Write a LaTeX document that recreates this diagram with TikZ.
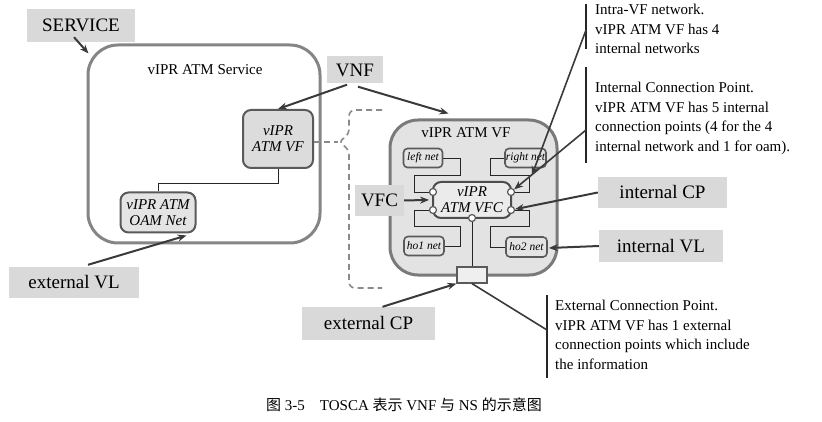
\documentclass[tikz,border=0pt]{standalone}
\usepackage{fontspec}
\setmainfont{Liberation Serif}
\newfontfamily\cjk{Noto Sans CJK SC}
\usetikzlibrary{arrows.meta,calc}
\definecolor{lblgray}{HTML}{D9D9D9}
\definecolor{arrgray}{HTML}{3A3A3A}
\definecolor{boxedge}{HTML}{858585}
\definecolor{netedge}{HTML}{5A5A5A}
\definecolor{netfill}{HTML}{E4E4E4}
\definecolor{vfsfill}{HTML}{DCDCDC}
\definecolor{bigfill}{HTML}{E3E3E3}
\definecolor{bigedge}{HTML}{7A7A7A}
\definecolor{extfill}{HTML}{EFEFEF}
\definecolor{vfcfill}{HTML}{EBEBEB}
\definecolor{vfcedge}{HTML}{4D4D4D}
\definecolor{dashgray}{HTML}{8A8A8A}
\begin{document}
\begin{tikzpicture}[x=1pt,y=-1pt,
  lbl/.style={fill=lblgray,draw=none,inner sep=0pt,font=\fontsize{19}{22}\selectfont},
  bigbox/.style={draw=boxedge,line width=3pt,rounded corners=30pt,inner sep=0pt},
  netbox/.style={draw=netedge,fill=netfill,line width=1.6pt,rounded corners=4pt,inner sep=0pt,font=\fontsize{11.5}{13}\selectfont\itshape},
  midbox/.style={draw=netedge,fill=netfill,line width=2pt,rounded corners=8pt,inner sep=0pt,align=center,font=\fontsize{15}{16}\selectfont\itshape},
  cpt/.style={circle,draw=netedge,fill=white,line width=1.2pt,minimum size=7pt,inner sep=0pt},
  arr/.style={draw=arrgray,line width=2pt,-{Stealth[length=9pt,width=7pt]}},
  thin/.style={draw=black!85,line width=0.9pt},
  note/.style={anchor=north west,inner sep=0pt,align=left,font=\fontsize{15}{19.5}\selectfont},
  notebar/.style={draw=black!85,line width=2pt},
  dashline/.style={draw=dashgray,line width=1.6pt,dash pattern=on 6pt off 4pt,rounded corners=6pt}
]
\useasboundingbox (0,0) rectangle (822,422);

% ---------- Service box ----------
\node[bigbox,fill=white,minimum width=232pt,minimum height=198pt] (service) at (204,144) {};
\node[inner sep=0pt,font=\fontsize{15}{17}\selectfont] (servtitle) at (205,70) {vIPR ATM Service};
\node[midbox,fill=vfsfill,minimum width=70pt,minimum height=58pt] (vfs) at (278,139) {vIPR\\ATM VF};
\node[midbox,minimum width=75pt,minimum height=40pt] (oam) at (158,212.5) {vIPR ATM\\OAM Net};
\draw[thin] (vfs.south) -- ++(0,14) -| (oam.north);

% ---------- Dashed bracket ----------
\draw[dashline] (382,110) -- (349,110) -- (349,135) -- (338,142) -- (349,149) -- (349,288) -- (382,288);
\draw[dashline,rounded corners=0pt] (vfs.east |- 0,142) -- (338,142);

% ---------- VF box ----------
\node[bigbox,fill=bigfill,draw=bigedge,minimum width=167pt,minimum height=155pt,rounded corners=28pt] (bigvf) at (473.5,197.5) {};
\node[inner sep=0pt,font=\fontsize{15}{17}\selectfont] (vftitle) at (466,133) {vIPR ATM VF};
\node[netbox,minimum width=39pt,minimum height=19pt] (leftnet) at (423,158) {left net};
\node[netbox,minimum width=41pt,minimum height=19pt] (rightnet) at (525.5,158) {right net};
\node[netbox,minimum width=40pt,minimum height=19pt] (ho1) at (424,246) {ho1 net};
\node[netbox,minimum width=41pt,minimum height=20pt] (ho2) at (526.5,247) {ho2 net};

\coordinate (cp1p) at (433,192);
\coordinate (cp2p) at (433,210);
\coordinate (cp3p) at (511,192);
\coordinate (cp4p) at (511,210);
\coordinate (cp5p) at (472,218);

\node[draw=netedge,fill=extfill,line width=1.2pt,minimum width=30pt,minimum height=16pt,inner sep=0pt] (extcp) at (472,275) {};

\draw[thin] (leftnet.east) -- (460,158) -- (460,175) -- (414,175) -- (414,192) -- (cp1p);
\draw[thin] (cp2p) -- (414,210) -- (414,226) -- (460,226) -- (460,246) -- (ho1.east);
\draw[thin] (rightnet.west) -- (490,158) -- (490,175) -- (529,175) -- (529,192) -- (cp3p);
\draw[thin] (cp4p) -- (529,210) -- (529,226) -- (490,226) -- (490,247) -- (ho2.west);
\draw[thin] (cp5p) -- (extcp.north);

\node[midbox,fill=vfcfill,draw=vfcedge,minimum width=78pt,minimum height=36pt] (vfcbox) at (472,200) {vIPR\\ATM VFC};
\node[cpt] (cp1) at (cp1p) {};
\node[cpt] (cp2) at (cp2p) {};
\node[cpt] (cp3) at (cp3p) {};
\node[cpt] (cp4) at (cp4p) {};
\node[cpt] (cp5) at (cp5p) {};

% ---------- Labels ----------
\node[lbl,minimum width=108pt,minimum height=33pt] (servlbl) at (81,25.5) {SERVICE};
\node[lbl,minimum width=56pt,minimum height=27pt] (vnf) at (355,70) {VNF};
\node[lbl,minimum width=49pt,minimum height=31pt] (vfc) at (379.5,200.5) {VFC};
\node[lbl,minimum width=129pt,minimum height=31pt] (intcp) at (662.5,192.5) {internal CP};
\node[lbl,minimum width=124pt,minimum height=32pt] (intvl) at (661,246) {internal VL};
\node[lbl,minimum width=130pt,minimum height=31pt] (extvl) at (74,282.5) {external VL};
\node[lbl,minimum width=133pt,minimum height=33pt] (extcplbl) at (368.5,323.5) {external CP};

% ---------- Notes ----------
\draw[notebar] (586,4) -- (586,49);
\node[note] (note1) at (595,4) {Intra-VF network.\\vIPR ATM VF has 4\\internal networks};
\draw[notebar] (586,67) -- (586,163);
\node[note] (note2) at (595,82) {Internal Connection Point.\\vIPR ATM VF has 5 internal\\connection points (4 for the 4\\internal network and 1 for oam).};
\draw[notebar] (547,295) -- (547,378);
\node[note] (note3) at (555,300) {External Connection Point.\\vIPR ATM VF has 1 external\\connection points which include\\the information};

\coordinate (n1) at (586,30);
\coordinate (n2) at (586,130);
\coordinate (n3) at (547,330);
\coordinate (rnline) at (532,175);

% ---------- Arrows ----------
\draw[arr] ($(servlbl.south)+(-7,-5)$) -- ($(service.north west)+(2,10)$);
\draw[arr] ($(vnf.south)+(-8,1)$) -- (vfs.north);
\draw[arr] ($(vnf.south)+(3,3)$) -- ($(bigvf.north)+(-25,-5)$);
\draw[arr] ($(extvl.north)+(14,-2)$) -- ($(oam.south east)+(-10,2)$);
\draw[arr] (vfc.east) -- ($(cp1.south west)+(-1,5)$);
\draw[arr] (intcp.west) -- (cp4);
\draw[arr] (intvl.west) -- ($(ho2.east)+(1,1)$);
\draw[arr] ($(extcplbl.north)+(14,0)$) -- (extcp.south west);
\draw[arr,line width=1.6pt] (n1) -- (rnline);
\draw[arr,line width=1.6pt] (n2) -- (cp3);
\draw[thin,line width=1.6pt,draw=arrgray] (extcp.south) -- (n3);

% ---------- Caption ----------
\node[inner sep=0pt,font=\fontsize{15}{18}\selectfont] (caption) at (404,405) {{\cjk 图} 3-5\quad TOSCA {\cjk 表示} VNF {\cjk 与} NS {\cjk 的示意图}};
\end{tikzpicture}
\end{document}
